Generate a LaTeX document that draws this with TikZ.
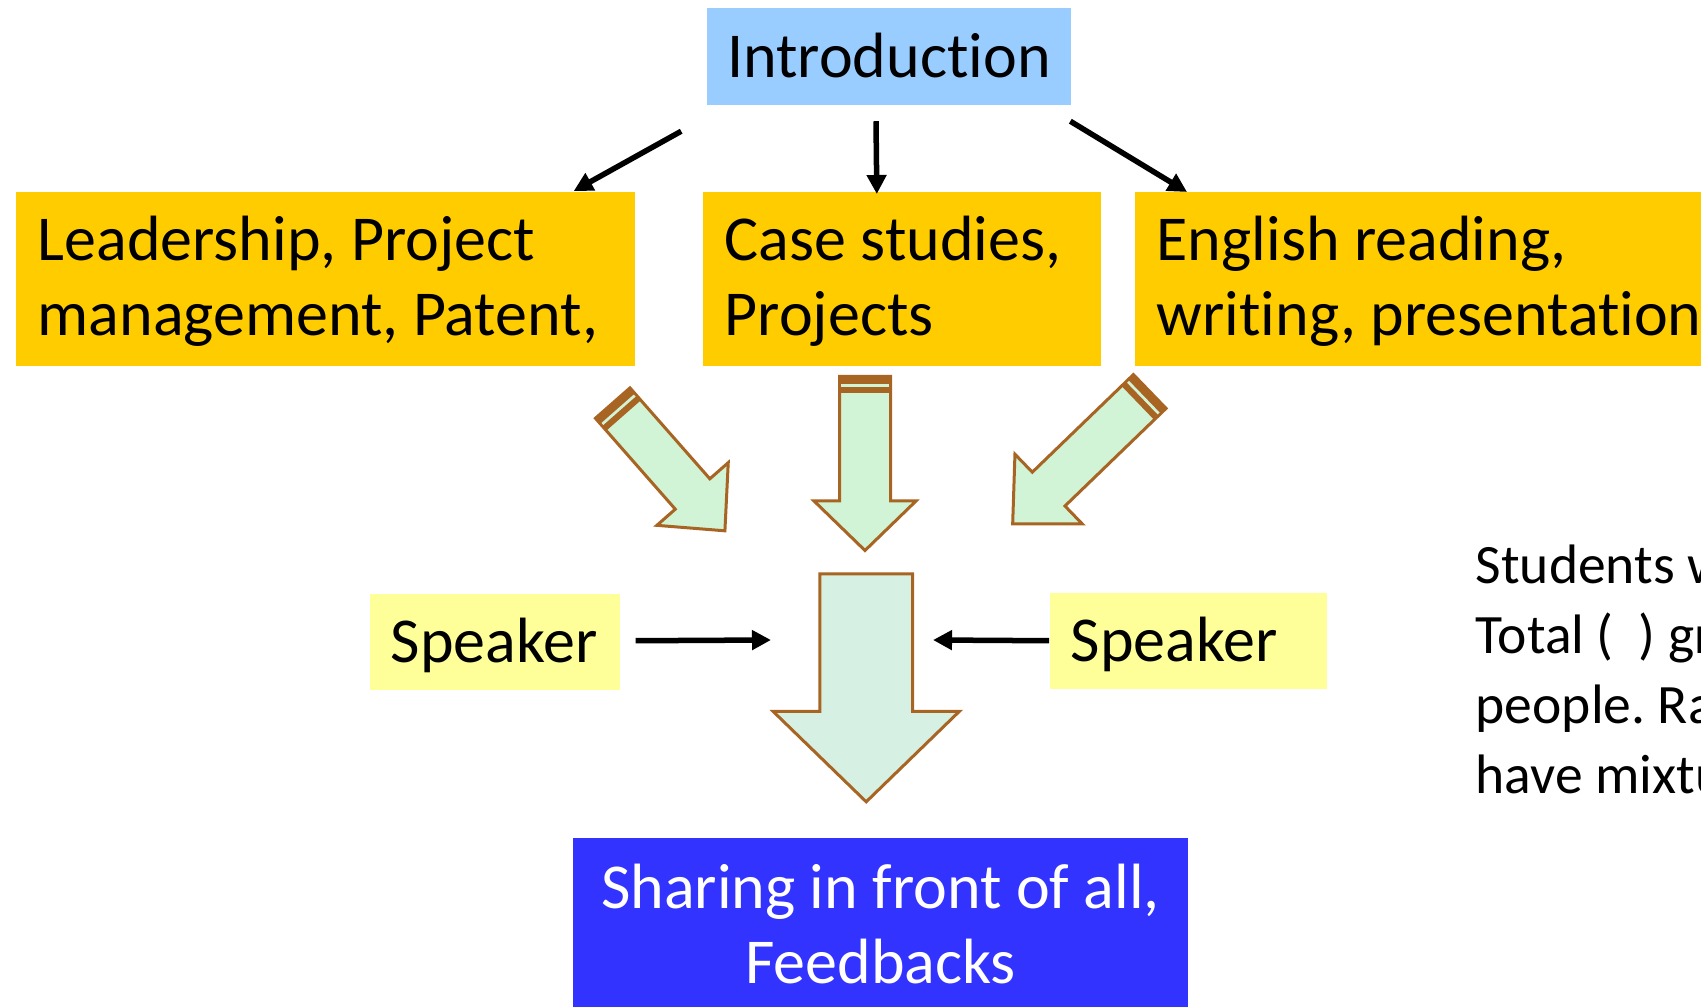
\documentclass[tikz,border=0pt]{standalone}
\usepackage{fontspec}
\setmainfont{Carlito}[Ligatures=NoCommon]
\usepackage{xcolor}
\usetikzlibrary{arrows.meta,positioning}

\definecolor{introblue}{HTML}{99CCFF}
\definecolor{topicgold}{HTML}{FFCC00}
\definecolor{speakeryellow}{HTML}{FFFF99}
\definecolor{shareblue}{HTML}{3333FF}
\definecolor{arrowbrown}{HTML}{A86422}
\definecolor{paleleaf}{HTML}{D2F4D6}
\definecolor{palemint}{HTML}{D6F1E3}

\frenchspacing
\newcommand\boxfont{\fontsize{18.2pt}{21.4pt}\selectfont}
\newcommand\notefont{\fontsize{15.8pt}{19.9pt}\selectfont}
\newcommand\plainspace{\spaceskip=0pt\xspaceskip=0pt}
\newcommand\firststrut{\plainspace\rule{0pt}{0.52cm}}
\newcommand\laststrut{\rule[-0.13cm]{0pt}{0.13cm}}

\tikzset{
  arrowline/.style={draw=arrowbrown, line width=0.03cm, fill=#1},
  pics/blockarrow/.style args={#1/#2/#3/#4/#5}{code={
    \draw[arrowline=#5] (-#1,0) -- (#1,0) -- (#1,#4-#3) -- (#2,#4-#3) -- (0,#4)
      -- (-#2,#4-#3) -- (-#1,#4-#3) -- cycle;
  }},
  pics/tailband/.style={code={
    \fill[arrowbrown] (-#1,0) -- (#1,0) -- (#1,16.5) -- (-#1,16.5) -- cycle;
    \fill[paleleaf] (-#1+1.5,7.5) -- (#1-1.5,7.5) -- (#1-1.5,10.2) -- (-#1+1.5,10.2) -- cycle;
  }}
}

\begin{document}
\begin{tikzpicture}[x=0.01cm,y=-0.01cm,
    topic/.style={fill=topicgold, anchor=north west, inner xsep=0.22cm, inner ysep=0pt,
      align=left, font=\boxfont, minimum height=1.74cm},
    speaker/.style={fill=speakeryellow, anchor=north west, inner xsep=0.21cm, inner ysep=0pt,
      align=left, font=\boxfont, minimum height=0.96cm, text height=0.5cm, text depth=0.09cm},
    thinarrow/.style={-{Triangle[length=0.19cm,width=0.19cm]}, line width=0.055cm}]
    \useasboundingbox (0,0) rectangle (1701,1007);
    \clip (0,0) rectangle (1701,1007);

    % Start of the session
    \node[fill=introblue, minimum width=3.64cm, minimum height=0.96cm, inner sep=0pt,
      text height=0.5cm, text depth=0.09cm, font=\boxfont] (intro) at (889,56.5) {Introduction};

    % Three topics
    \node[topic, text width=5.75cm] (lead) at (15,191)
      {\firststrut Leadership, Project\\management, Patent,\laststrut};
    \node[topic, text width=3.54cm] (cases) at (702,191)
      {\firststrut Case studies,\\Projects\laststrut};
    \node[topic, text width=5.8cm] (english) at (1134,191)
      {\firststrut English reading,\\writing, presentation\laststrut};

    \draw[thinarrow] ([xshift=-0.25cm,yshift=-0.26cm]intro.south west) -- ([xshift=-0.62cm]lead.north east);
    \draw[thinarrow] ([xshift=-0.13cm,yshift=-0.16cm]intro.south) -- ([xshift=-0.25cm,yshift=-0.03cm]cases.north);
    \draw[thinarrow] ([xshift=-0.015cm,yshift=-0.16cm]intro.south east) -- ([xshift=0.53cm,yshift=-0.01cm]english.north west);

    % Block arrows from the topics
    \pic[rotate=41.3] at (612.7,403.1) {blockarrow=23/47.5/49/170/paleleaf};
    \pic[rotate=41.3] at (612.7,403.1) {tailband=23};
    \pic at (865,376.5) {blockarrow=25.5/51/49.5/174/paleleaf};
    \pic at (865,376.5) {tailband=25.5};
    \pic[rotate=-46] at (1149.7,391.5) {blockarrow=23.5/48.5/50/190.5/paleleaf};
    \pic[rotate=-46] at (1149.7,391.5) {tailband=23.5};

    % Speakers and the big arrow
    \pic at (866.2,573.8) {blockarrow=46.3/93.2/90.5/228/palemint};
    \node[speaker, text width=2.08cm] (spkL) at (369,593) {Speaker};
    \node[speaker, text width=2.35cm] (spkR) at (1049,592) {Speaker};
    \coordinate (shaftL) at (771,640);
    \coordinate (shaftR) at (933,640);
    \draw[thinarrow] ([xshift=0.15cm,yshift=0.01cm]spkL.east) -- (shaftL);
    \draw[thinarrow] (spkR.west) -- (shaftR);

    % Final step
    \node[fill=shareblue, text=white, anchor=north, minimum width=6.15cm, minimum height=1.72cm,
      inner sep=0pt, align=center, font=\boxfont] (share) at (880.5,837) {Sharing in front of all,\\Feedbacks};

    % Side note
    \node[anchor=base west, align=left, font=\notefont, inner sep=0pt] (note) at (1475,793)
      {\plainspace Students will be divided\\Total (~~) groups, each\\people. Randomly\\have mixture};
\end{tikzpicture}
\end{document}
